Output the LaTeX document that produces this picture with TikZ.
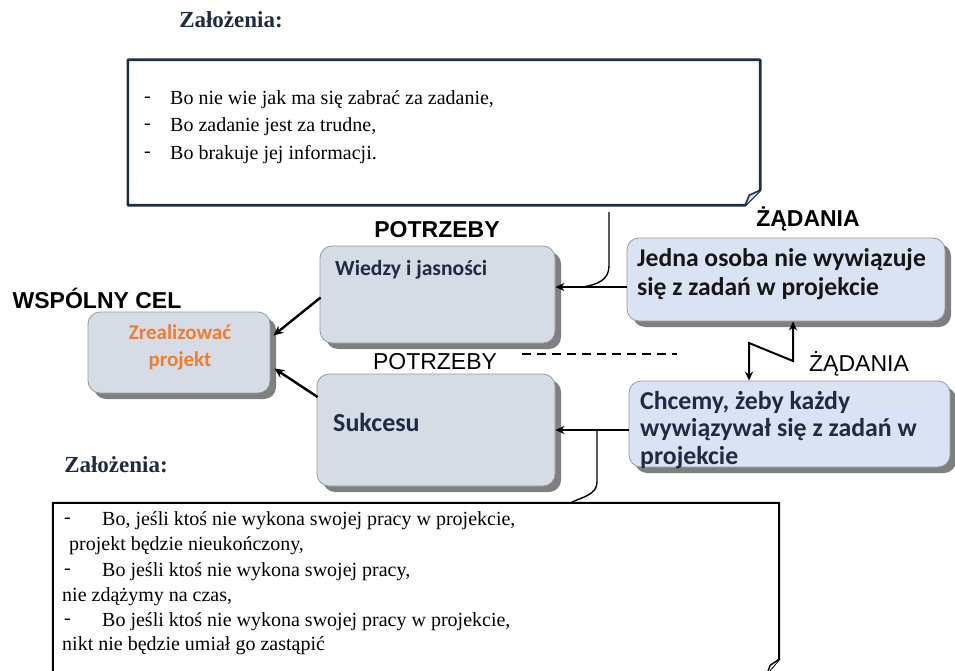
\documentclass[tikz,border=0pt]{standalone}
\usepackage{fontspec}
\setmainfont{Liberation Serif}
\newfontfamily\headfont{Liberation Sans}
\newfontfamily\boxfont{Carlito}
\usetikzlibrary{arrows.meta,shadows,calc}
\definecolor{navy}{HTML}{1F2A44}
\definecolor{graybox}{HTML}{D6DCE5}
\definecolor{bluebox}{HTML}{DAE3F3}
\definecolor{shade}{HTML}{7F7F7F}
\definecolor{goal}{HTML}{ED7D31}
\definecolor{noteline}{HTML}{1F2D4D}
\definecolor{ink}{HTML}{161616}

\begin{document}
\begin{tikzpicture}[x=1pt,y=-1pt,
  card/.style={draw=shade!80, line width=0.8pt, rounded corners=12pt, inner sep=0pt,
    drop shadow={shadow xshift=6pt, shadow yshift=-6pt, fill=shade, opacity=1}},
  graycard/.style={card, fill=graybox},
  bluecard/.style={card, fill=bluebox},
  headbold/.style={font=\headfont\bfseries\fontsize{23}{27}\selectfont, inner sep=0pt},
  headplain/.style={font=\headfont\fontsize{23}{27}\selectfont, inner sep=0pt},
  notetitle/.style={font=\bfseries\fontsize{23}{27}\selectfont, text=navy, inner sep=0pt},
  notetext/.style={font=\fontsize{20}{24}\selectfont, anchor=west, inner sep=0pt},
  boxtext/.style={font=\boxfont\bfseries\fontsize{24}{28}\selectfont, inner sep=0pt, text=navy},
  arr/.style={line width=2.8pt, -{Stealth[length=9pt,width=8pt]}},
  diag/.style={line width=2.4pt, -{Stealth[length=10pt,width=9pt]}},
  link/.style={line width=1.4pt},
  note/.style={draw=none, inner sep=0pt}
]
\useasboundingbox (0,0) rectangle (955,671);

% ---- note frames (y grows downwards here) --------------------------------
\node[note, minimum width=632pt, minimum height=145pt] (N1) at (444,132.5) {};
\draw[noteline, line width=2.6pt, line join=round]
  (N1.north west) -- (N1.north east) -- ($(N1.south east)+(0,-15)$)
  -- ($(N1.south east)+(-15,0)$) -- (N1.south west) -- cycle;
\draw[noteline, line width=1.6pt, fill=bluebox, line join=round]
  ($(N1.south east)+(-15,0)$) -- ($(N1.south east)+(-11,-10)$) -- ($(N1.south east)+(0,-15)$);

\node[note, minimum width=726pt, minimum height=170pt] (N2) at (416,588) {};
\draw[line width=2pt, line join=round]
  (N2.north west) -- (N2.north east) -- ($(N2.south east)+(0,-14)$)
  -- ($(N2.south east)+(-12,0)$) -- (N2.south west) -- cycle;
\draw[line width=1.4pt, fill=white, line join=round]
  ($(N2.south east)+(-12,0)$) -- ($(N2.south east)+(-9,-8)$) -- ($(N2.south east)+(0,-14)$);

% ---- note texts ----------------------------------------------------------
\node[notetitle] (z1) at (231,20) {Założenia:};
\node[notetext] (d1) at (144,100) {-};
\node[notetext] (l1) at (170,100) {Bo nie wie jak ma się zabrać za zadanie,};
\node[notetext] (d2) at (144,127) {-};
\node[notetext] (l2) at (170,127) {Bo zadanie jest za trudne,};
\node[notetext] (d3) at (144,155) {-};
\node[notetext] (l3) at (170,155) {Bo brakuje jej informacji.};

\node[notetitle] (z2) at (116,465) {Założenia:};
\node[notetext] (e1) at (64,521) {-};
\node[notetext] (m1) at (102,521) {Bo, jeśli ktoś nie wykona swojej pracy w projekcie,};
\node[notetext] (m2) at (69,546) {projekt będzie nieukończony,};
\node[notetext] (e3) at (64,572) {-};
\node[notetext] (m3) at (102,572) {Bo jeśli ktoś nie wykona swojej pracy,};
\node[notetext] (m4) at (62,597) {nie zdążymy na czas,};
\node[notetext] (e5) at (64,622) {-};
\node[notetext] (m5) at (102,622) {Bo jeśli ktoś nie wykona swojej pracy w projekcie,};
\node[notetext] (m6) at (62,646) {nikt nie będzie umiał go zastąpić};

% ---- cards ---------------------------------------------------------------
\node[graycard, minimum width=182pt, minimum height=81pt] (Zre) at (179,352.5) {};
\node[graycard, minimum width=235pt, minimum height=97pt] (Wie) at (437.5,294.5) {};
\node[graycard, minimum width=238pt, minimum height=112pt] (Suk) at (436,430) {};
\node[bluecard, minimum width=318pt, minimum height=83pt] (Jed) at (786,279.5) {};
\node[bluecard, minimum width=321pt, minimum height=86pt] (Chc) at (789.5,424) {};

\node[boxtext, text=goal, align=center, font=\boxfont\bfseries\fontsize{21}{27}\selectfont]
  (tZre) at (180,347) {Zrealizować\\projekt};
\node[boxtext, anchor=west, font=\boxfont\bfseries\fontsize{21.6}{25}\selectfont]
  (tWie) at (335,270) {Wiedzy i jasności};
\node[boxtext, anchor=west, font=\boxfont\bfseries\fontsize{26}{28}\selectfont]
  (tSuk) at (333,422) {Sukcesu};
\node[boxtext, text=ink, anchor=north west, align=left, font=\boxfont\bfseries\fontsize{25.6}{29}\selectfont]
  (tJed) at (637,248) {Jedna osoba nie wywiązuje\\się z zadań w projekcie};
\node[boxtext, anchor=north west, align=left, font=\boxfont\bfseries\fontsize{25.8}{27.5}\selectfont]
  (tChc) at (640,391) {Chcemy, żeby każdy\\wywiązywał się z zadań w\\projekcie};

% ---- headings ------------------------------------------------------------
\node[headbold] (hCel) at (97,298) {WSPÓLNY CEL};
\node[headbold] (hPot1) at (437,230) {POTRZEBY};
\node[headbold] (hZad1) at (808,219) {ŻĄDANIA};
\node[headplain] (hPot2) at (435,362) {POTRZEBY};
\node[headplain] (hZad2) at (859,364) {ŻĄDANIA};

% ---- connectors ----------------------------------------------------------
\coordinate (rowA) at (590,287);
\draw[arr] (rowA -| Jed.west) -- (rowA -| Wie.east);
\draw[arr] (Chc.west |- Suk.east) -- (Suk.east);

\draw[diag] ($(Wie.west)+(1,3)$) -- ($(Zre.east)+(3,-17)$);
\draw[diag] ($(Suk.west)+(1,-33)$) -- ($(Zre.east)+(4,16)$);

\coordinate (c1) at (609,212);
\coordinate (c2) at (582,287);
\draw[link] (c1) -- (609,266) .. controls (609,280) and (597,285) .. (c2);

\coordinate (c3) at (597,430);
\coordinate (c4) at (570,503);
\draw[link] (c3) -- (597,482) .. controls (597,495) and (582,497) .. (c4);

\coordinate (da) at (522,354);
\coordinate (db) at (677,354);
\draw[line width=1.5pt, dash pattern=on 9pt off 6pt] (da) -- (db);

\coordinate (za) at (749,343);
\coordinate (zb) at (793,361);
\draw[line width=2pt, line join=miter, {Stealth[length=9pt,width=8pt]}-{Stealth[length=9pt,width=8pt]}]
  (za |- Chc.north) -- (za) -- (zb) -- (zb |- Jed.south);
\end{tikzpicture}
\end{document}
